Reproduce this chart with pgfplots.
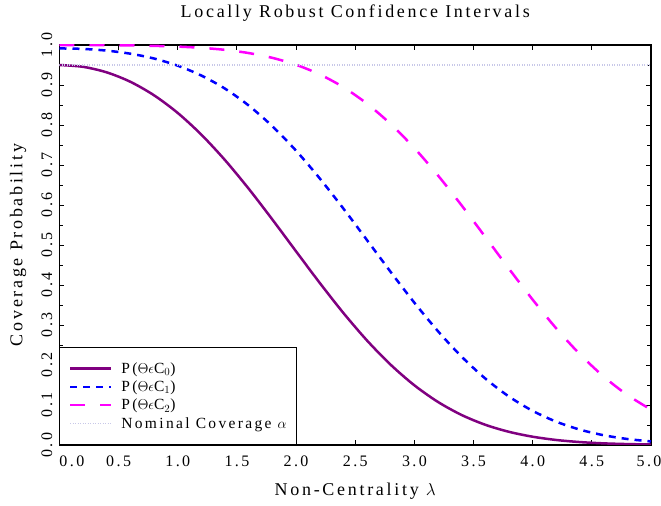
\documentclass[border=0pt]{standalone}
\usepackage{fontspec}
\setmainfont{Liberation Serif}[LetterSpace=15]
\usepackage{pgfplots}
\pgfplotsset{compat=1.18}
\definecolor{cpurple}{RGB}{128,0,128}
\definecolor{cblue}{RGB}{0,0,255}
\definecolor{cmag}{RGB}{255,0,255}
\definecolor{cnom}{RGB}{200,200,232}
\begin{document}
\begin{tikzpicture}
\useasboundingbox (-59.5bp,-61bp) rectangle (601.5bp,445bp);
\begin{axis}[
 at={(0,0)}, anchor=south west,
 scale only axis, width=591.5bp, height=400bp,
 xmin=0, xmax=5, ymin=0, ymax=1,
 axis line style={line width=1.6bp},
 every tick/.style={black, line width=0.9bp},
 major tick length=5bp, minor tick length=4bp,
 xtick={0,0.5,...,5},
 xticklabels={\makebox[0pt][l]{0.0},0.5,1.0,1.5,2.0,2.5,3.0,3.5,4.0,4.5,\makebox[0pt][c]{\hspace{-4bp}5.0}},
 ytick={0,0.1,...,1.0},
 yticklabels={0.0,0.1,0.2,0.3,0.4,0.5,0.6,0.7,0.8,0.9,1.0},
 minor y tick num=1,
 tick label style={font=\fontsize{16bp}{18bp}\selectfont},
 xticklabel style={anchor=north, inner sep=0pt},
 xticklabel shift=11bp,
 yticklabel style={rotate=90, anchor=south, inner sep=0pt},
 yticklabel shift=7bp,
 title={Locally Robust Confidence Intervals},
 title style={font=\fontsize{18bp}{20bp}\selectfont, at={(axis description cs:0.5,1.055)}, anchor=base, inner sep=0pt},
 xlabel={Non-Centrality $\lambda$},
 every axis x label/.style={font=\fontsize{18bp}{20bp}\selectfont, at={(axis description cs:0.5,-0.125)}, anchor=base, inner sep=0pt},
 ylabel={Coverage Probability},
 every axis y label/.style={font=\fontsize{18bp}{20bp}\selectfont, at={(axis description cs:-0.0702,0.5)}, rotate=90, anchor=center, inner sep=0pt},
 legend style={at={(0,0)}, anchor=south west, draw=black, line width=0.8bp,
   font=\fontsize{15.5bp}{18bp}\selectfont, inner xsep=9bp, inner ysep=14bp,
   row sep=4bp, nodes={inner sep=1bp}},
 legend cell align=left,
 legend image code/.code={\draw[#1] (0bp,0bp) -- (41bp,0bp); \path (49bp,0bp);},
]
\addplot[cpurple, line width=2.5bp, smooth] table {
x y
0.0 0.9500
0.2 0.9454
0.4 0.9315
0.6 0.9079
0.8 0.8741
1.0 0.8300
1.2 0.7756
1.4 0.7119
1.6 0.6404
1.8 0.5635
2.0 0.4840
2.2 0.4052
2.4 0.3300
2.6 0.2611
2.8 0.2005
3.0 0.1492
3.2 0.1075
3.4 0.0749
3.6 0.0505
3.8 0.0329
4.0 0.0207
4.2 0.0125
4.4 0.0073
4.6 0.0041
4.8 0.0023
5.0 0.0012
};
\addlegendentry{P($\Theta\epsilon$C$_0$)}
\addplot[cblue, line width=2.5bp, dash pattern=on 7bp off 6bp, smooth] table {
x y
0.0 0.9914
0.2 0.9902
0.4 0.9859
0.6 0.9782
0.8 0.9661
1.0 0.9482
1.2 0.9235
1.4 0.8907
1.6 0.8485
1.8 0.7967
2.0 0.7357
2.2 0.6664
2.4 0.5910
2.6 0.5120
2.8 0.4325
3.0 0.3557
3.2 0.2843
3.4 0.2206
3.6 0.1660
3.8 0.1210
4.0 0.0853
4.2 0.0582
4.4 0.0384
4.6 0.0244
4.8 0.0150
5.0 0.0089
};
\addlegendentry{P($\Theta\epsilon$C$_1$)}
\addplot[cmag, line width=2.5bp, dash pattern=on 15bp off 15bp, smooth] table {
x y
0.0 0.9997
0.2 0.9997
0.4 0.9994
0.6 0.9989
0.8 0.9978
1.0 0.9960
1.2 0.9929
1.4 0.9878
1.6 0.9798
1.8 0.9678
2.0 0.9505
2.2 0.9265
2.4 0.8944
2.6 0.8531
2.8 0.8023
3.0 0.7422
3.2 0.6736
3.4 0.5987
3.6 0.5199
3.8 0.4404
4.0 0.3632
4.2 0.2912
4.4 0.2266
4.6 0.1711
4.8 0.1251
5.0 0.0885
};
\addlegendentry{P($\Theta\epsilon$C$_2$)}
\addplot[cnom, line width=1.3bp, dash pattern=on 1bp off 1.5bp] coordinates {(0,0.95) (5,0.95)};
\addlegendentry{Nominal Coverage $\alpha$}
\end{axis}
\end{tikzpicture}
\end{document}
